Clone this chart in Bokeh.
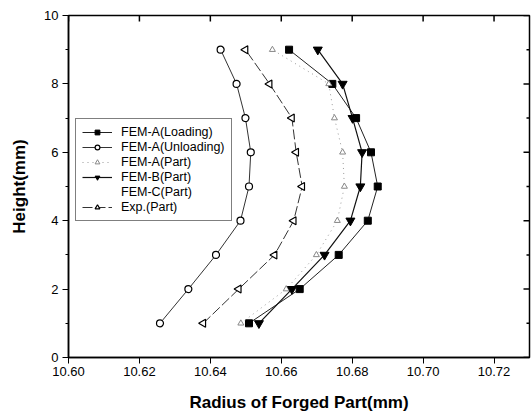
import math
from bokeh.plotting import figure
from bokeh.models import Range1d, Legend, LegendItem, FixedTicker, NumeralTickFormatter
from bokeh.embed import file_html
from bokeh.resources import INLINE

heights = [1, 2, 3, 4, 5, 6, 7, 8, 9]
fem_a_loading = [10.6509, 10.6652, 10.6762, 10.6844, 10.6872, 10.6853, 10.6811, 10.6744, 10.6622]
fem_a_unloading = [10.6258, 10.6338, 10.6416, 10.6485, 10.6509, 10.6514, 10.6499, 10.6474, 10.6429]
fem_a_part = [10.6486, 10.6614, 10.6699, 10.6758, 10.6778, 10.6773, 10.6750, 10.6734, 10.6575]
fem_b_part = [10.6537, 10.6630, 10.6722, 10.6795, 10.6823, 10.6828, 10.6801, 10.6773, 10.6703]
fem_c_part = [10.6490, 10.6616, 10.6700, 10.6758, 10.6778, 10.6773, 10.6750, 10.6734, 10.6578]
exp_part = [10.6380, 10.6480, 10.6581, 10.6635, 10.6659, 10.6642, 10.6630, 10.6567, 10.6499]

x_ticks = [10.60, 10.62, 10.64, 10.66, 10.68, 10.70, 10.72]
y_ticks = [0, 2, 4, 6, 8, 10]
y_minor = [1, 3, 5, 7, 9]

X0, X1 = 10.60, 10.73
Y0, Y1 = 0, 10
FONT = "Liberation Sans"
W, H = 531, 417
BL, BR, BT, BB = 68, 2, 15, 60

p = figure(width=W, height=H, output_backend="svg", toolbar_location=None,
           x_range=Range1d(X0, X1), y_range=Range1d(Y0, Y1),
           min_border_left=BL, min_border_right=BR, min_border_top=BT, min_border_bottom=BB,
           x_axis_label="Radius of Forged Part(mm)", y_axis_label="Height(mm)")
p.grid.visible = False
p.outline_line_color = "black"
p.outline_line_width = 1.5
p.background_fill_color = "white"
p.border_fill_color = "white"

for ax in (p.xaxis[0], p.yaxis[0]):
    ax.axis_line_color = "black"
    ax.axis_line_width = 1.5
    ax.major_tick_line_color = "black"
    ax.minor_tick_line_color = "black"
    ax.major_tick_in = 0
    ax.major_tick_out = 6
    ax.minor_tick_in = 0
    ax.minor_tick_out = 3
    ax.major_label_text_font = FONT
    ax.major_label_text_font_size = "13px"
    ax.major_label_text_color = "black"
    ax.axis_label_text_font = FONT
    ax.axis_label_text_font_style = "bold"
    ax.axis_label_text_font_size = "17px"
    ax.axis_label_text_color = "black"

p.xaxis[0].ticker = FixedTicker(ticks=x_ticks)
p.xaxis[0].formatter = NumeralTickFormatter(format="0.00")
p.xaxis[0].major_label_standoff = 3
p.xaxis[0].axis_label_standoff = 14
p.xaxis[0].minor_tick_out = 0
p.yaxis[0].ticker = FixedTicker(ticks=y_ticks, minor_ticks=y_minor)
p.yaxis[0].major_label_standoff = 4
p.yaxis[0].axis_label_standoff = 12

# mirrored inward ticks on the top and right frame edges
fw = W - BL - BR
fh = H - BT - BB
dx = (X1 - X0) / fw
dy = (Y1 - Y0) / fh
p.segment(x0=x_ticks, y0=[Y1] * len(x_ticks), x1=x_ticks, y1=[Y1 - 6 * dy] * len(x_ticks),
          line_color="black", line_width=1.5)
p.segment(x0=[X1] * len(y_ticks), y0=y_ticks, x1=[X1 - 6 * dx] * len(y_ticks), y1=y_ticks,
          line_color="black", line_width=1.5)
p.segment(x0=[X1] * len(y_minor), y0=y_minor, x1=[X1 - 3 * dx] * len(y_minor), y1=y_minor,
          line_color="black", line_width=1.5)

r1l = p.line(fem_a_loading, heights, line_color="#222222", line_width=1)
r1m = p.scatter(fem_a_loading, heights, marker="square", size=7, fill_color="black", line_color="black")

r2l = p.line(fem_a_unloading, heights, line_color="#333333", line_width=1)
r2m = p.scatter(fem_a_unloading, heights, marker="circle", size=7, fill_color="white", line_color="black", line_width=1.2)

r3l = p.line(fem_a_part, heights, line_color="#999999", line_width=1, line_dash="1 4")
r3m = p.scatter(fem_a_part, heights, marker="triangle", size=6, fill_color="white", line_color="#888888", line_width=1)

r4l = p.line(fem_b_part, heights, line_color="#111111", line_width=1.2)
r4m = p.scatter(fem_b_part, heights, marker="inverted_triangle", size=9, fill_color="black", line_color="black")

r5l = p.line(fem_c_part, heights, line_color="#bbbbbb", line_width=1, line_alpha=0.0)

r6l = p.line(exp_part, heights, line_color="#333333", line_width=1, line_dash="10 3")
r6m = p.scatter(exp_part, heights, marker="triangle", angle=math.pi / 2, size=8,
                fill_color="white", line_color="black", line_width=1.2)

legend = Legend(items=[
    LegendItem(label="FEM-A(Loading)", renderers=[r1l, r1m]),
    LegendItem(label="FEM-A(Unloading)", renderers=[r2l, r2m]),
    LegendItem(label="FEM-A(Part)", renderers=[r3l, r3m]),
    LegendItem(label="FEM-B(Part)", renderers=[r4l, r4m]),
    LegendItem(label="FEM-C(Part)", renderers=[r5l]),
    LegendItem(label="Exp.(Part)", renderers=[r6l, r6m]),
], location=(7, 136))
legend.label_text_font = FONT
legend.label_text_font_size = "12.5px"
legend.label_text_color = "black"
legend.label_height = 12
legend.glyph_height = 12
legend.glyph_width = 30
legend.label_standoff = 9
legend.spacing = 1
legend.padding = 6
legend.margin = 0
legend.border_line_color = "black"
legend.border_line_width = 1.2
legend.background_fill_color = "white"
legend.background_fill_alpha = 1.0
p.add_layout(legend, "center")

open("out.html", "w").write(file_html(p, INLINE))
